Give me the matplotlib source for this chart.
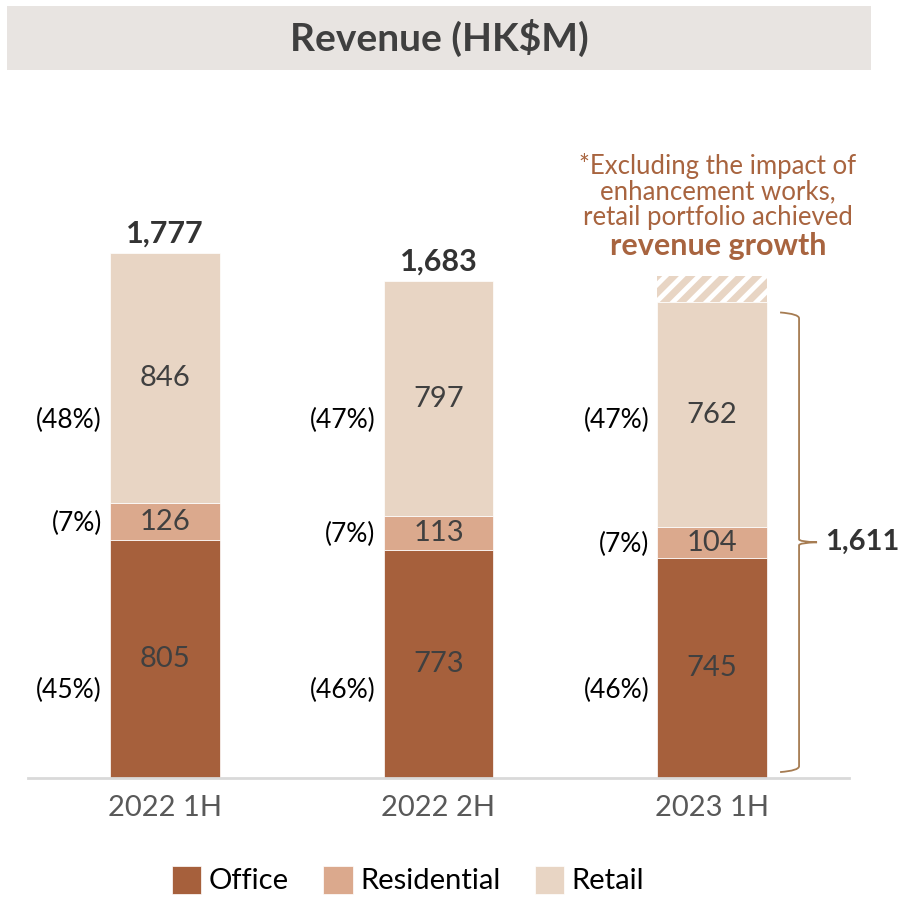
import matplotlib
matplotlib.use("Agg")
import matplotlib.pyplot as plt
from matplotlib.patches import Rectangle, PathPatch
from matplotlib.path import Path

plt.rcParams['font.family'] = ['Lato', 'DejaVu Sans']
plt.rcParams['hatch.linewidth'] = 5

categories = ["2022 1H", "2022 2H", "2023 1H"]
office = [805, 773, 745]
residential = [126, 113, 104]
retail = [846, 797, 762]
totals_lbl = ["1,777", "1,683", "1,611"]
office_pct = ["(45%)", "(46%)", "(46%)"]
res_pct = ["(7%)", "(7%)", "(7%)"]
retail_pct = ["(48%)", "(47%)", "(47%)"]
excluded_impact = 90  # hatched portion above 2023 1H bar (estimated)
series_names = ["Office", "Residential", "Retail"]

C_OFF = "#A6603C"
C_RES = "#DBA98D"
C_RET = "#E8D5C4"
C_TXT = "#404040"
C_NOTE = "#A8643F"
C_BRACE = "#A67C52"

W, H = 899, 898
fig = plt.figure(figsize=(W / 100, H / 100), dpi=100)

def fx(px):
    return px / W

def fy(py):
    return 1 - py / H

# title bar
fig.patches.append(Rectangle((fx(7), fy(70)), fx(871) - fx(7), fy(6) - fy(70),
                             transform=fig.transFigure, facecolor="#E8E4E1",
                             edgecolor="none", zorder=0))
fig.text(fx(439), fy(38), "Revenue (HK$M)", ha="center", va="center",
         fontsize=28, fontweight="bold", color="#3F3F3F")

ax = fig.add_axes([fx(28), fy(778), fx(849) - fx(28), fy(100) - fy(778)])
ymax = 678 / 0.2954
ax.set_xlim(-0.5, 2.5)
ax.set_ylim(0, ymax)
for s in ["top", "right", "left"]:
    ax.spines[s].set_visible(False)
ax.spines["bottom"].set_color("#D9D9D9")
ax.spines["bottom"].set_linewidth(2)
ax.set_yticks([])
x = list(range(len(categories)))
ax.set_xticks(x)
ax.set_xticklabels(categories, fontsize=21, color="#595959")
ax.tick_params(axis="x", length=0, pad=12)

bw = 0.40
b1 = ax.bar(x, office, bw, color=C_OFF, edgecolor="white", linewidth=0.5, label=series_names[0])
b2 = ax.bar(x, residential, bw, bottom=office, color=C_RES, edgecolor="white", linewidth=0.5,
            label=series_names[1])
bot3 = [o + r for o, r in zip(office, residential)]
b3 = ax.bar(x, retail, bw, bottom=bot3, color=C_RET, edgecolor="white", linewidth=0.5,
            label=series_names[2])

# hatched excluded impact on last bar
tot3 = bot3[2] + retail[2]
ax.bar([2], [excluded_impact], bw, bottom=[tot3], facecolor="white", edgecolor=C_RET,
       linewidth=0, hatch="//")

for i in x:
    tot = office[i] + residential[i] + retail[i]
    ax.text(i, office[i] / 2, str(office[i]), ha="center", va="center", fontsize=21, color=C_TXT)
    ax.text(i, office[i] + residential[i] / 2, str(residential[i]), ha="center", va="center",
            fontsize=21, color=C_TXT)
    ax.text(i, bot3[i] + retail[i] / 2, str(retail[i]), ha="center", va="center",
            fontsize=21, color=C_TXT)
    lx = i - bw / 2 - 0.03
    ax.text(lx, 298, office_pct[i], ha="right", va="center", fontsize=19, color="black")
    ax.text(lx, office[i] + residential[i] / 2 - 6, res_pct[i], ha="right", va="center",
            fontsize=19, color="black")
    ax.text(lx, 1212, retail_pct[i], ha="right", va="center", fontsize=19, color="black")
    if i < 2:
        ax.text(i, tot + 18, totals_lbl[i], ha="center", va="bottom", fontsize=22,
                fontweight="bold", color="#333333")

# brace for last bar
bx = (800 - 165) / 274
tip = (818 - 165) / 274
curl = (781 - 165) / 274
y0, y1 = 20, tot3 - 35
ym = (y0 + y1) / 2
verts = [(curl, y0), (bx, y0 + 5), (bx, y0 + 20),
         (bx, ym - 10), (bx, ym - 2), (tip, ym),
         (bx, ym + 2), (bx, ym + 10),
         (bx, y1 - 20), (bx, y1 - 5), (curl, y1)]
codes = [Path.MOVETO, Path.CURVE3, Path.CURVE3,
         Path.LINETO, Path.CURVE3, Path.CURVE3,
         Path.CURVE3, Path.CURVE3,
         Path.LINETO, Path.CURVE3, Path.CURVE3]
ax.add_patch(PathPatch(Path(verts, codes), facecolor="none", edgecolor=C_BRACE, lw=1.3,
                       clip_on=False))
ax.text((826 - 165) / 274, ym, totals_lbl[2], ha="left", va="center", fontsize=21,
        fontweight="bold", color="#333333", clip_on=False)

# note
fig.text(fx(718), fy(166), "*Excluding the impact of", ha="center", va="center",
         fontsize=18.5, color=C_NOTE)
fig.text(fx(718), fy(192), "enhancement works,", ha="center", va="center",
         fontsize=18.5, color=C_NOTE)
fig.text(fx(718), fy(217), "retail portfolio achieved", ha="center", va="center",
         fontsize=18.5, color=C_NOTE)
fig.text(fx(718), fy(246), "revenue growth", ha="center", va="center",
         fontsize=22, fontweight="bold", color=C_NOTE)

# legend
leg = fig.legend(handles=[b1, b2, b3], labels=series_names, loc="center",
                 bbox_to_anchor=(fx(408), fy(880)), ncol=3, frameon=False,
                 fontsize=21, handlelength=1.0, handleheight=1.1, handletextpad=0.25,
                 columnspacing=1.2)
for t in leg.get_texts():
    t.set_color("black")

fig.savefig("out.png", dpi=100)
